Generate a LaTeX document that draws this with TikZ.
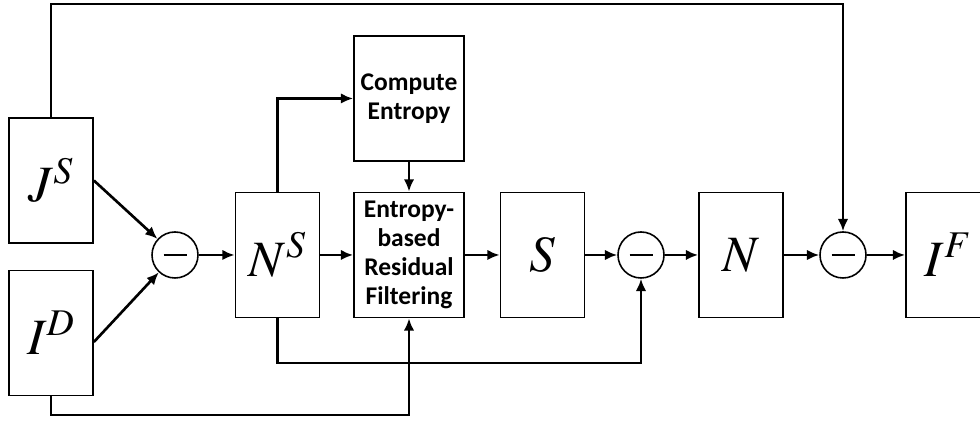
\documentclass[tikz,border=0pt]{standalone}
\usepackage{mathptmx}
\usepackage{fontspec}
\newfontfamily\calibri{Carlito}
\usetikzlibrary{arrows.meta}
\tikzset{>={Latex[length=7pt,width=6pt]}}
\tikzstyle{blockbox}=[draw,line width=1pt,minimum width=1.68cm,minimum height=2.5cm,inner sep=0pt]
\tikzstyle{textbox}=[blockbox,minimum width=2.2cm,text width=2.2cm,align=center,font=\calibri\bfseries\fontsize{14.5}{16.5}\selectfont]
\tikzstyle{mathlabel}=[font=\fontsize{29}{30}\selectfont]
\tikzstyle{minuscircle}=[draw,circle,line width=0.9pt,minimum size=0.92cm,inner sep=0pt,
  path picture={\draw[line width=1.2pt] (-0.23,0)--(0.23,0);}]
\tikzstyle{flow}=[line width=1.5pt]

\begin{document}
\begin{tikzpicture}
  \useasboundingbox (0,0) rectangle (19.6,8.44);
  % blocks
  \node[blockbox,mathlabel] (js) at (1.02,4.83) {$J^S$};
  \node[blockbox,mathlabel] (id) at (1.02,1.78) {$I^D$};
  \node[minuscircle] (sub1) at (3.5,3.34) {};
  \node[blockbox,mathlabel] (ns) at (5.55,3.34) {$N^S$};
  \node[textbox] (entropy) at (8.18,6.47) {Compute\\Entropy};
  \node[textbox] (filter) at (8.18,3.34) {Entropy-\\based\\Residual\\Filtering};
  \node[blockbox,mathlabel] (s) at (10.85,3.34) {$S$};
  \node[minuscircle] (sub2) at (12.82,3.34) {};
  \node[blockbox,mathlabel] (n) at (14.82,3.34) {$N$};
  \node[minuscircle] (sub3) at (16.86,3.34) {};
  \node[blockbox,mathlabel] (if) at (18.96,3.34) {$I^F$};
  \coordinate (top) at (1.02,8.36);
  \coordinate (lowns) at (5.55,1.18);
  \coordinate (lowid) at (1.02,0.14);

  % connectors
  \draw[flow,->] (js.east) -- (sub1);
  \draw[flow,->] ([yshift=-0.18cm]id.east) -- (sub1);
  \draw[flow,->] (sub1) -- (ns);
  \draw[flow,->] (ns) -- (filter);
  \draw[flow,->] (ns.north) |- (entropy.west);
  \draw[flow,->] (entropy) -- (filter);
  \draw[flow,->] (filter) -- (s);
  \draw[flow,->] (s) -- (sub2);
  \draw[flow,->] (sub2) -- (n);
  \draw[flow,->] (n) -- (sub3);
  \draw[flow,->] (sub3) -- (if);
  \draw[flow,->] (js.north) -- (top) -| (sub3.north);
  \draw[flow,->] (ns.south) -- (lowns) -| (sub2.south);
  \draw[flow,->] (id.south) -- (lowid) -| (filter.south);
\end{tikzpicture}
\end{document}
